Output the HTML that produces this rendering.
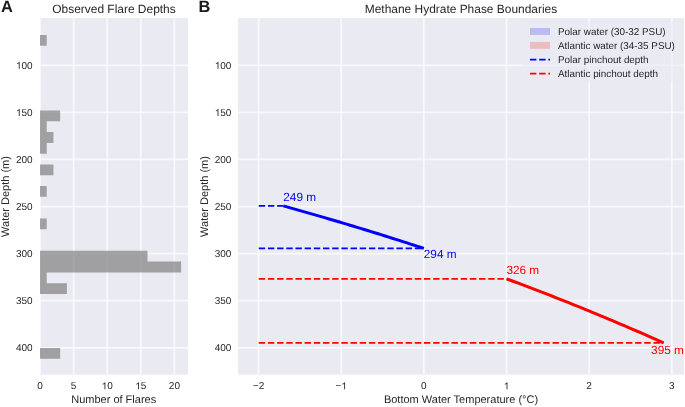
<!DOCTYPE html><html><head><meta charset="utf-8"><style>html,body{margin:0;padding:0;background:#fff;}svg{display:block;will-change:transform;}text{font-family:"Liberation Sans",sans-serif;fill:#262626;text-rendering:geometricPrecision;}</style></head><body>
<svg width="685" height="407" viewBox="0 0 685 407">
<rect x="40.0" y="18.1" width="148.00" height="356.50" fill="#EAEAF2"/>
<rect x="238.0" y="18.1" width="446.10" height="356.50" fill="#EAEAF2"/>
<line x1="40.00" y1="18.1" x2="40.00" y2="374.6" stroke="#fff" stroke-opacity="0.72" stroke-width="1.7"/>
<line x1="73.60" y1="18.1" x2="73.60" y2="374.6" stroke="#fff" stroke-opacity="0.72" stroke-width="1.7"/>
<line x1="107.20" y1="18.1" x2="107.20" y2="374.6" stroke="#fff" stroke-opacity="0.72" stroke-width="1.7"/>
<line x1="140.80" y1="18.1" x2="140.80" y2="374.6" stroke="#fff" stroke-opacity="0.72" stroke-width="1.7"/>
<line x1="174.40" y1="18.1" x2="174.40" y2="374.6" stroke="#fff" stroke-opacity="0.72" stroke-width="1.7"/>
<line x1="40.0" y1="65.30" x2="188.0" y2="65.30" stroke="#fff" stroke-opacity="0.72" stroke-width="1.7"/>
<line x1="40.0" y1="112.38" x2="188.0" y2="112.38" stroke="#fff" stroke-opacity="0.72" stroke-width="1.7"/>
<line x1="40.0" y1="159.47" x2="188.0" y2="159.47" stroke="#fff" stroke-opacity="0.72" stroke-width="1.7"/>
<line x1="40.0" y1="206.56" x2="188.0" y2="206.56" stroke="#fff" stroke-opacity="0.72" stroke-width="1.7"/>
<line x1="40.0" y1="253.64" x2="188.0" y2="253.64" stroke="#fff" stroke-opacity="0.72" stroke-width="1.7"/>
<line x1="40.0" y1="300.72" x2="188.0" y2="300.72" stroke="#fff" stroke-opacity="0.72" stroke-width="1.7"/>
<line x1="40.0" y1="347.81" x2="188.0" y2="347.81" stroke="#fff" stroke-opacity="0.72" stroke-width="1.7"/>
<line x1="258.55" y1="18.1" x2="258.55" y2="374.6" stroke="#fff" stroke-opacity="0.72" stroke-width="1.7"/>
<line x1="341.20" y1="18.1" x2="341.20" y2="374.6" stroke="#fff" stroke-opacity="0.72" stroke-width="1.7"/>
<line x1="423.85" y1="18.1" x2="423.85" y2="374.6" stroke="#fff" stroke-opacity="0.72" stroke-width="1.7"/>
<line x1="506.50" y1="18.1" x2="506.50" y2="374.6" stroke="#fff" stroke-opacity="0.72" stroke-width="1.7"/>
<line x1="589.15" y1="18.1" x2="589.15" y2="374.6" stroke="#fff" stroke-opacity="0.72" stroke-width="1.7"/>
<line x1="671.80" y1="18.1" x2="671.80" y2="374.6" stroke="#fff" stroke-opacity="0.72" stroke-width="1.7"/>
<line x1="238.0" y1="65.30" x2="684.1" y2="65.30" stroke="#fff" stroke-opacity="0.72" stroke-width="1.7"/>
<line x1="238.0" y1="112.38" x2="684.1" y2="112.38" stroke="#fff" stroke-opacity="0.72" stroke-width="1.7"/>
<line x1="238.0" y1="159.47" x2="684.1" y2="159.47" stroke="#fff" stroke-opacity="0.72" stroke-width="1.7"/>
<line x1="238.0" y1="206.56" x2="684.1" y2="206.56" stroke="#fff" stroke-opacity="0.72" stroke-width="1.7"/>
<line x1="238.0" y1="253.64" x2="684.1" y2="253.64" stroke="#fff" stroke-opacity="0.72" stroke-width="1.7"/>
<line x1="238.0" y1="300.72" x2="684.1" y2="300.72" stroke="#fff" stroke-opacity="0.72" stroke-width="1.7"/>
<line x1="238.0" y1="347.81" x2="684.1" y2="347.81" stroke="#fff" stroke-opacity="0.72" stroke-width="1.7"/>
<path d="M40.0 35.00h6.72v10.79h-6.72zM40.0 110.53h20.16v10.79h-20.16zM40.0 121.32h6.72v10.79h-6.72zM40.0 132.11h13.44v10.79h-13.44zM40.0 142.90h6.72v10.79h-6.72zM40.0 164.48h13.44v10.79h-13.44zM40.0 186.06h6.72v10.79h-6.72zM40.0 218.43h6.72v10.79h-6.72zM40.0 250.80h107.52v10.79h-107.52zM40.0 261.59h141.12v10.79h-141.12zM40.0 272.38h6.72v10.79h-6.72zM40.0 283.17h26.88v10.79h-26.88zM40.0 347.91h20.16v10.79h-20.16z" fill="rgb(128,128,128)" fill-opacity="0.7"/>
<polyline points="283.35,205.90 286.86,206.88 290.37,207.86 293.88,208.85 297.40,209.84 300.91,210.83 304.42,211.83 307.93,212.84 311.45,213.84 314.96,214.86 318.47,215.87 321.98,216.89 325.50,217.92 329.01,218.94 332.52,219.98 336.03,221.02 339.55,222.06 343.06,223.10 346.57,224.15 350.08,225.21 353.60,226.27 357.11,227.33 360.62,228.40 364.14,229.47 367.65,230.55 371.16,231.63 374.67,232.71 378.19,233.80 381.70,234.90 385.21,236.00 388.72,237.10 392.24,238.21 395.75,239.33 399.26,240.44 402.77,241.57 406.29,242.69 409.80,243.82 413.31,244.96 416.82,246.10 420.34,247.25 423.85,248.40" fill="none" stroke="#0000ff" stroke-width="3.0" stroke-linejoin="round"/>
<polyline points="506.50,278.80 510.43,280.26 514.35,281.72 518.28,283.19 522.20,284.67 526.13,286.16 530.06,287.65 533.98,289.15 537.91,290.66 541.83,292.17 545.76,293.70 549.68,295.22 553.61,296.76 557.54,298.30 561.46,299.85 565.39,301.41 569.31,302.98 573.24,304.55 577.17,306.13 581.09,307.72 585.02,309.31 588.94,310.91 592.87,312.52 596.80,314.14 600.72,315.77 604.65,317.40 608.57,319.04 612.50,320.69 616.42,322.35 620.35,324.01 624.28,325.68 628.20,327.36 632.13,329.05 636.05,330.75 639.98,332.45 643.91,334.17 647.83,335.89 651.76,337.61 655.68,339.35 659.61,341.10 663.54,342.85" fill="none" stroke="#ff0000" stroke-width="3.0" stroke-linejoin="round"/>
<line x1="258.75" y1="205.90" x2="283.35" y2="205.90" stroke="#0000ff" stroke-width="1.72" stroke-dasharray="6.4 2.78"/>
<line x1="258.75" y1="248.40" x2="423.85" y2="248.40" stroke="#0000ff" stroke-width="1.72" stroke-dasharray="6.4 2.78"/>
<line x1="258.75" y1="278.80" x2="506.50" y2="278.80" stroke="#ff0000" stroke-width="1.72" stroke-dasharray="6.4 2.78"/>
<line x1="258.75" y1="342.85" x2="663.54" y2="342.85" stroke="#ff0000" stroke-width="1.72" stroke-dasharray="6.4 2.78"/>
<text x="283.30" y="201.20" font-size="11.8" style="fill:#0000ff">249 m</text>
<text x="423.80" y="258.10" font-size="11.8" style="fill:#0000ff">294 m</text>
<text x="506.40" y="274.10" font-size="11.8" style="fill:#ff0000">326 m</text>
<text x="651.10" y="354.30" font-size="11.8" style="fill:#ff0000">395 m</text>
<rect x="523" y="21.5" width="158.5" height="60" fill="#EAEAF2" fill-opacity="0.6"/>
<rect x="530" y="28" width="20" height="6.9" fill="#0000ff" fill-opacity="0.2"/>
<rect x="530" y="41.9" width="20" height="6.9" fill="#ff0000" fill-opacity="0.2"/>
<line x1="530" y1="59.6" x2="550" y2="59.6" stroke="#0000ff" stroke-width="1.72" stroke-dasharray="6.4 2.78"/>
<line x1="530" y1="73.6" x2="550" y2="73.6" stroke="#ff0000" stroke-width="1.72" stroke-dasharray="6.4 2.78"/>
<text x="558.0" y="34.8" font-size="9.9">Polar water (30-32 PSU)</text>
<text x="558.0" y="48.8" font-size="9.9">Atlantic water (34-35 PSU)</text>
<text x="558.0" y="62.9" font-size="9.9">Polar pinchout depth</text>
<text x="558.0" y="76.6" font-size="9.9">Atlantic pinchout depth</text>
<text x="15.92" y="68.85" font-size="10.0"> 00</text>
<path transform="translate(15.915 68.85) scale(0.004883 -0.004883)" d="M763 0L583 0L583 1147Q518 1085 422 1028.5Q326 972 233 937L233 1111Q401 1190 514 1289.5Q627 1389 667 1466L763 1466Z" fill="#262626"/>
<text x="214.72" y="68.85" font-size="10.0"> 00</text>
<path transform="translate(214.715 68.85) scale(0.004883 -0.004883)" d="M763 0L583 0L583 1147Q518 1085 422 1028.5Q326 972 233 937L233 1111Q401 1190 514 1289.5Q627 1389 667 1466L763 1466Z" fill="#262626"/>
<text x="15.92" y="115.93" font-size="10.0"> 50</text>
<path transform="translate(15.915 115.93) scale(0.004883 -0.004883)" d="M763 0L583 0L583 1147Q518 1085 422 1028.5Q326 972 233 937L233 1111Q401 1190 514 1289.5Q627 1389 667 1466L763 1466Z" fill="#262626"/>
<text x="214.72" y="115.93" font-size="10.0"> 50</text>
<path transform="translate(214.715 115.93) scale(0.004883 -0.004883)" d="M763 0L583 0L583 1147Q518 1085 422 1028.5Q326 972 233 937L233 1111Q401 1190 514 1289.5Q627 1389 667 1466L763 1466Z" fill="#262626"/>
<text x="15.92" y="163.02" font-size="10.0">200</text>
<text x="214.72" y="163.02" font-size="10.0">200</text>
<text x="15.92" y="210.11" font-size="10.0">250</text>
<text x="214.72" y="210.11" font-size="10.0">250</text>
<text x="15.92" y="257.19" font-size="10.0">300</text>
<text x="214.72" y="257.19" font-size="10.0">300</text>
<text x="15.92" y="304.27" font-size="10.0">350</text>
<text x="214.72" y="304.27" font-size="10.0">350</text>
<text x="15.92" y="351.36" font-size="10.0">400</text>
<text x="214.72" y="351.36" font-size="10.0">400</text>
<text x="37.22" y="389.30" font-size="10.0">0</text>
<text x="70.82" y="389.30" font-size="10.0">5</text>
<text x="101.64" y="389.30" font-size="10.0"> 0</text>
<path transform="translate(101.638 389.30) scale(0.004883 -0.004883)" d="M763 0L583 0L583 1147Q518 1085 422 1028.5Q326 972 233 937L233 1111Q401 1190 514 1289.5Q627 1389 667 1466L763 1466Z" fill="#262626"/>
<text x="135.24" y="389.30" font-size="10.0"> 5</text>
<path transform="translate(135.238 389.30) scale(0.004883 -0.004883)" d="M763 0L583 0L583 1147Q518 1085 422 1028.5Q326 972 233 937L233 1111Q401 1190 514 1289.5Q627 1389 667 1466L763 1466Z" fill="#262626"/>
<text x="168.84" y="389.30" font-size="10.0">20</text>
<text x="252.85" y="389.30" font-size="10.0">−2</text>
<text x="335.50" y="389.30" font-size="10.0">− </text>
<path transform="translate(341.339 389.30) scale(0.004883 -0.004883)" d="M763 0L583 0L583 1147Q518 1085 422 1028.5Q326 972 233 937L233 1111Q401 1190 514 1289.5Q627 1389 667 1466L763 1466Z" fill="#262626"/>
<text x="421.07" y="389.30" font-size="10.0">0</text>
<text x="503.72" y="389.30" font-size="10.0"> </text>
<path transform="translate(503.719 389.30) scale(0.004883 -0.004883)" d="M763 0L583 0L583 1147Q518 1085 422 1028.5Q326 972 233 937L233 1111Q401 1190 514 1289.5Q627 1389 667 1466L763 1466Z" fill="#262626"/>
<text x="586.37" y="389.30" font-size="10.0">2</text>
<text x="669.02" y="389.30" font-size="10.0">3</text>
<text x="113.7" y="402.9" font-size="11.0" text-anchor="middle">Number of Flares</text>
<text x="461" y="402.9" font-size="11.0" text-anchor="middle">Bottom Water Temperature (°C)</text>
<text transform="translate(9.4 196.5) rotate(-90)" font-size="11.0" text-anchor="middle">Water Depth (m)</text>
<text transform="translate(208.1 196.5) rotate(-90)" font-size="11.0" text-anchor="middle">Water Depth (m)</text>
<text x="114" y="12.8" font-size="11.95" text-anchor="middle">Observed Flare Depths</text>
<text x="461" y="12.8" font-size="11.95" text-anchor="middle">Methane Hydrate Phase Boundaries</text>
<text x="0.9" y="12.2" font-size="16.4" font-weight="bold" style="fill:#1a1a1a">A</text>
<text x="198.6" y="12.4" font-size="16.4" font-weight="bold" style="fill:#1a1a1a">B</text>
</svg></body></html>
